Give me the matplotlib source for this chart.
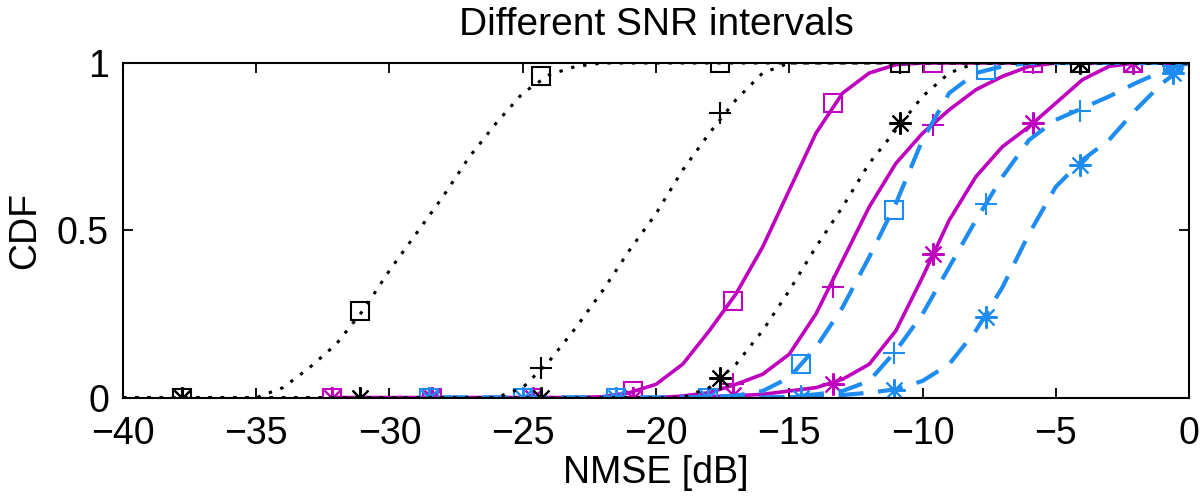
import numpy as np
import matplotlib
matplotlib.use('Agg')
import matplotlib.pyplot as plt

plt.rcParams['font.family'] = ['Liberation Sans', 'DejaVu Sans']

# NMSE grid [dB] for the CDF curves (1 dB steps)
nmse = np.arange(-40, 1, 1)
nan = np.nan

# CDF curves, one value per dB from -40 to 0
black_sq = [0, 0, 0, 0, 0, 0, 0.03, 0.09, 0.16, 0.26, 0.38, 0.49, 0.60, 0.72, 0.82, 0.91,
            0.965, 0.99] + [1] * 23
black_plus = [0] * 15 + [0.03, 0.11, 0.21, 0.32, 0.44, 0.55, 0.68, 0.79, 0.89, 0.97, 1.0] + [1] * 15
black_star = [0] * 22 + [0.03, 0.10, 0.20, 0.32, 0.45, 0.57, 0.70, 0.80, 0.90, 0.97, 1.0] + [1] * 8

mag_sq = [nan] * 8 + [0] * 10 + [0.003, 0.015, 0.04, 0.10, 0.20, 0.31, 0.45, 0.62, 0.79, 0.91,
                                 0.97, 0.995] + [1] * 11
mag_plus = [nan] * 8 + [0] * 13 + [0.005, 0.015, 0.04, 0.07, 0.13, 0.25, 0.41, 0.57, 0.70, 0.79,
                                  0.86, 0.92, 0.96, 0.99] + [1] * 6
mag_star = [nan] * 8 + [0] * 14 + [0.003, 0.006, 0.01, 0.02, 0.03, 0.055, 0.10, 0.20, 0.36, 0.53,
                                  0.66, 0.75, 0.81, 0.88, 0.95, 0.99] + [1] * 3

blue_sq = [nan] * 12 + [0] * 10 + [0.002, 0.006, 0.02, 0.06, 0.15, 0.27, 0.42, 0.58, 0.77, 0.91,
                                  0.97, 0.99] + [1] * 7
blue_plus = [nan] * 12 + [0] * 13 + [0.003, 0.01, 0.02, 0.05, 0.14, 0.25, 0.39, 0.53, 0.66, 0.77,
                                    0.83, 0.865, 0.90, 0.94, 0.975, 1.0]
blue_star = [nan] * 12 + [0] * 14 + [0.003, 0.008, 0.015, 0.025, 0.05, 0.10, 0.20, 0.33, 0.49,
                                    0.63, 0.71, 0.77, 0.86, 0.94, 1.0]

# marker positions
black_mk_x = [-37.8, -31.1, -24.3, -17.6, -10.85, -4.1]
black_sq_mk = [0, 0.26, 0.96, 1, 1, 1]
black_plus_mk = [0, 0, 0.09, 0.85, 1, 1]
black_star_mk = [0, 0, 0, 0.06, 0.82, 1]

mag_mk_x = [-32.15, -28.4, -24.6, -20.85, -17.1, -13.35, -9.6, -5.85, -2.1]
mag_sq_mk = [0, 0, 0, 0.02, 0.29, 0.88, 1, 1, 1]
mag_plus_mk = [0, 0, 0, 0, 0.04, 0.33, 0.815, 1, 1]
mag_star_mk = [0, 0, 0, 0, 0.008, 0.04, 0.43, 0.82, 1]

blue_mk_x = [-28.5, -25.0, -21.5, -18.05, -14.55, -11.08, -7.6, -4.1, -0.6]
blue_sq_mk = [0, 0, 0, 0, 0.10, 0.56, 0.98, 1, 1]
blue_plus_mk = [0, 0, 0, 0, 0.005, 0.133, 0.58, 0.857, 0.99]
blue_star_mk = [0, 0, 0, 0, 0, 0.023, 0.242, 0.695, 0.97]

MAGENTA = '#bf00bf'
BLUE = '#1e8cf0'
ASTERISK = (8, 2, 0)

fig = plt.figure(figsize=(12, 4.98), dpi=100)
ax = fig.add_axes([123 / 1200, 1 - 397.7 / 498, 1066 / 1200, 334.7 / 498])

markers = {'s': 13, '+': 16, ASTERISK: 16}

# magenta solid curves
for y, ymk, m in [(mag_sq, mag_sq_mk, 's'), (mag_plus, mag_plus_mk, '+'),
                  (mag_star, mag_star_mk, ASTERISK)]:
    ax.plot(nmse, y, color=MAGENTA, lw=2.6, solid_capstyle='butt')
    ax.plot(mag_mk_x, ymk, ls='none', marker=m, ms=markers[m], mfc='none',
            mec=MAGENTA, mew=1.5)

# blue dashed curves
for y, ymk, m in [(blue_sq, blue_sq_mk, 's'), (blue_plus, blue_plus_mk, '+'),
                  (blue_star, blue_star_mk, ASTERISK)]:
    ax.plot(nmse, y, color=BLUE, lw=3.0, ls=(0, (6, 3.5)), dash_capstyle='butt')
    ax.plot(blue_mk_x, ymk, ls='none', marker=m, ms=markers[m], mfc='none',
            mec=BLUE, mew=1.5)

# black dotted curves
for y, ymk, m in [(black_sq, black_sq_mk, 's'), (black_plus, black_plus_mk, '+'),
                  (black_star, black_star_mk, ASTERISK)]:
    ax.plot(nmse, y, color='black', lw=2.2, ls=(0, (1.1, 2.9)))
    ax.plot(black_mk_x, ymk, ls='none', marker=m, ms=markers[m], mfc='none',
            mec='black', mew=1.5)

ax.set_xlim(-40, 0)
ax.set_ylim(0, 1)
ax.set_xticks(np.arange(-40, 1, 5))
ax.set_yticks([0, 0.5, 1])
ax.set_yticklabels(['0', '0.5', '1'])
ax.tick_params(direction='in', top=True, right=True, length=7, width=1.3,
               labelsize=27)
ax.tick_params(axis='x', pad=13)
ax.tick_params(axis='y', pad=10)
for sp in ax.spines.values():
    sp.set_linewidth(1.5)

ax.set_title('Different SNR intervals', fontsize=28, pad=20)
ax.set_xlabel('NMSE [dB]', fontsize=27, labelpad=2)
ax.set_ylabel('CDF', fontsize=27, labelpad=10)

fig.savefig('out.png', dpi=100)
